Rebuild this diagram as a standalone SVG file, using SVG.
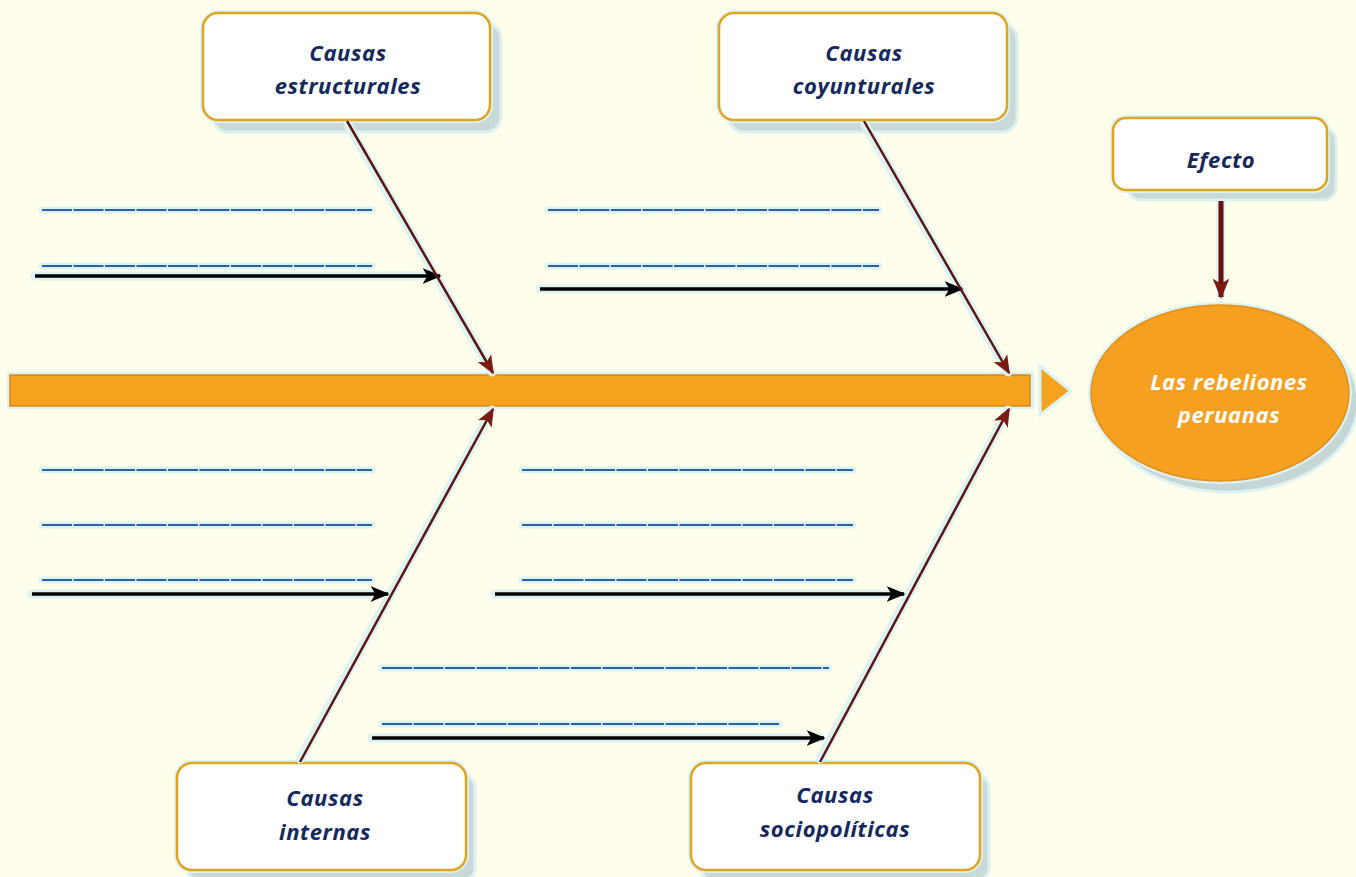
<svg xmlns="http://www.w3.org/2000/svg" width="1356" height="877" viewBox="0 0 1356 877">
<defs>
<style>
.bg{fill:#FEFEEA}
.box{fill:#FFFFFF;stroke:#E0A41E;stroke-width:2.5}
.shadow{fill:#C9D9D9;stroke:#DDF0F0;stroke-width:3}
.halo{fill:#FFFFFF;stroke:#DDF2F2;stroke-width:6}
.lbl{font-family:"Open Sans","DejaVu Sans",sans-serif;font-weight:700;font-style:italic;font-size:22px;letter-spacing:0.6px;fill:#14285E;text-anchor:middle}
.wlbl{font-family:"Open Sans","DejaVu Sans",sans-serif;font-weight:700;font-style:italic;font-size:22px;letter-spacing:0.6px;fill:#FFFFFF;text-anchor:middle}
.glow{stroke:#DDF2F2;stroke-linecap:round;fill:none}
.bone{stroke:#5C1610;stroke-width:2.5;fill:none}
.blk{stroke:#000000;stroke-width:3.5;fill:none}
.blue{stroke:#2C62A4;stroke-width:2;stroke-dasharray:30 1.5;fill:none}
</style>
<marker id="mr" viewBox="0 0 12 10" refX="11" refY="5" markerWidth="7.5" markerHeight="6.5" orient="auto" markerUnits="strokeWidth">
<path d="M0,0 L12,5 L0,10 L3,5 z" fill="#7A1A10"/>
</marker>
<marker id="mb" viewBox="0 0 12 10" refX="11" refY="5" markerWidth="5.5" markerHeight="4.5" orient="auto" markerUnits="strokeWidth">
<path d="M0,0 L12,5 L0,10 L3,5 z" fill="#000000"/>
</marker>
<marker id="me" viewBox="0 0 12 10" refX="11" refY="5" markerWidth="4" markerHeight="3.5" orient="auto" markerUnits="strokeWidth">
<path d="M0,0 L12,5 L0,10 L3,5 z" fill="#7A1A10"/>
</marker>
</defs>
<rect class="bg" x="0" y="0" width="1356" height="877"/>

<g id="spine">
<rect x="7" y="372" width="1027" height="37" fill="#DDF2F2"/>
<rect x="10" y="375" width="1020" height="31" fill="#F5A21F" stroke="#D88A12" stroke-width="1.5"/>
<path d="M1040,366 L1071,391 L1040,415 z" fill="#F5A21F" stroke="#DDF2F2" stroke-width="3"/>
</g>

<g id="n-estructurales">
<rect class="shadow" x="213" y="24" width="288" height="108" rx="15"/>
<rect class="halo" x="203" y="13" width="287" height="107" rx="15"/>
<rect class="box" x="203" y="13" width="287" height="107" rx="15"/>
<text class="lbl" x="348" y="61">Causas</text>
<text class="lbl" x="348" y="94">estructurales</text>
</g>

<g id="n-coyunturales">
<rect class="shadow" x="729" y="24" width="288" height="108" rx="15"/>
<rect class="halo" x="719" y="13" width="288" height="107" rx="15"/>
<rect class="box" x="719" y="13" width="288" height="107" rx="15"/>
<text class="lbl" x="864" y="61">Causas</text>
<text class="lbl" x="864" y="94">coyunturales</text>
</g>

<g id="n-efecto">
<rect class="shadow" x="1128" y="128" width="208" height="72" rx="13"/>
<rect class="halo" x="1113" y="118" width="214" height="72" rx="13"/>
<rect class="box" x="1113" y="118" width="214" height="72" rx="13"/>
<text class="lbl" x="1221" y="168">Efecto</text>
</g>

<g id="n-internas">
<rect class="shadow" x="187" y="774" width="288" height="108" rx="15"/>
<rect class="halo" x="177" y="763" width="289" height="107" rx="15"/>
<rect class="box" x="177" y="763" width="289" height="107" rx="15"/>
<text class="lbl" x="325" y="806">Causas</text>
<text class="lbl" x="325" y="840">internas</text>
</g>

<g id="n-sociopoliticas">
<rect class="shadow" x="701" y="774" width="288" height="108" rx="15"/>
<rect class="halo" x="691" y="763" width="289" height="107" rx="15"/>
<rect class="box" x="691" y="763" width="289" height="107" rx="15"/>
<text class="lbl" x="835" y="803">Causas</text>
<text class="lbl" x="835" y="837">sociopolíticas</text>
</g>

<g id="connectors">
<g class="glow" stroke-width="7">
<line x1="42" y1="210" x2="372" y2="210"/><line x1="42" y1="266" x2="372" y2="266"/>
<line x1="548" y1="210" x2="879" y2="210"/><line x1="548" y1="266" x2="879" y2="266"/>
<line x1="42" y1="470" x2="372" y2="470"/><line x1="42" y1="525" x2="372" y2="525"/><line x1="42" y1="580" x2="372" y2="580"/>
<line x1="522" y1="470" x2="853" y2="470"/><line x1="522" y1="525" x2="853" y2="525"/><line x1="522" y1="580" x2="853" y2="580"/>
<line x1="382" y1="668" x2="829" y2="668"/><line x1="382" y1="724" x2="779" y2="724"/>
</g>
<g class="glow" stroke-width="9">
<line x1="35" y1="276" x2="436" y2="276"/><line x1="540" y1="289" x2="958" y2="289"/>
<line x1="32" y1="594" x2="384" y2="594"/><line x1="495" y1="594" x2="900" y2="594"/>
<line x1="372" y1="738" x2="820" y2="738"/>
<line x1="348" y1="125" x2="492" y2="372"/><line x1="865" y1="125" x2="1008" y2="372"/>
<line x1="300" y1="759" x2="492" y2="410"/><line x1="820" y1="759" x2="1008" y2="410"/>
<line x1="1221" y1="203" x2="1221" y2="295"/>
</g>
<g>
<line class="blue" x1="42" y1="210" x2="372" y2="210"/><line class="blue" x1="42" y1="266" x2="372" y2="266"/>
<line class="blue" x1="548" y1="210" x2="879" y2="210"/><line class="blue" x1="548" y1="266" x2="879" y2="266"/>
<line class="blue" x1="42" y1="470" x2="372" y2="470"/><line class="blue" x1="42" y1="525" x2="372" y2="525"/><line class="blue" x1="42" y1="580" x2="372" y2="580"/>
<line class="blue" x1="522" y1="470" x2="853" y2="470"/><line class="blue" x1="522" y1="525" x2="853" y2="525"/><line class="blue" x1="522" y1="580" x2="853" y2="580"/>
<line class="blue" x1="382" y1="668" x2="829" y2="668"/><line class="blue" x1="382" y1="724" x2="779" y2="724"/>
</g>
<g>
<line class="blk" x1="35" y1="276" x2="440" y2="276" marker-end="url(#mb)"/>
<line class="blk" x1="540" y1="289" x2="962" y2="289" marker-end="url(#mb)"/>
<line class="blk" x1="32" y1="594" x2="388" y2="594" marker-end="url(#mb)"/>
<line class="blk" x1="495" y1="594" x2="904" y2="594" marker-end="url(#mb)"/>
<line class="blk" x1="372" y1="738" x2="824" y2="738" marker-end="url(#mb)"/>
</g>
<g>
<line class="bone" x1="347" y1="121" x2="493" y2="373" marker-end="url(#mr)"/>
<line class="bone" x1="864" y1="121" x2="1009" y2="373" marker-end="url(#mr)"/>
<line class="bone" x1="300" y1="762" x2="493" y2="409" marker-end="url(#mr)"/>
<line class="bone" x1="820" y1="762" x2="1009" y2="409" marker-end="url(#mr)"/>
<line x1="1221" y1="201" x2="1221" y2="297" stroke="#6A1010" stroke-width="5" marker-end="url(#me)"/>
</g>
</g>

<g id="n-efecto-principal">
<ellipse cx="1228" cy="402" rx="130" ry="90" fill="#C6D6D6" stroke="#DDF2F2" stroke-width="3"/>
<ellipse cx="1220" cy="393" rx="132" ry="91" fill="#DDF2F2"/>
<ellipse cx="1220" cy="393" rx="129" ry="88" fill="#F5A021" stroke="#E0901A" stroke-width="1.5"/>
<text class="wlbl" x="1229" y="390">Las rebeliones</text>
<text class="wlbl" x="1229" y="423">peruanas</text>
</g>
</svg>
